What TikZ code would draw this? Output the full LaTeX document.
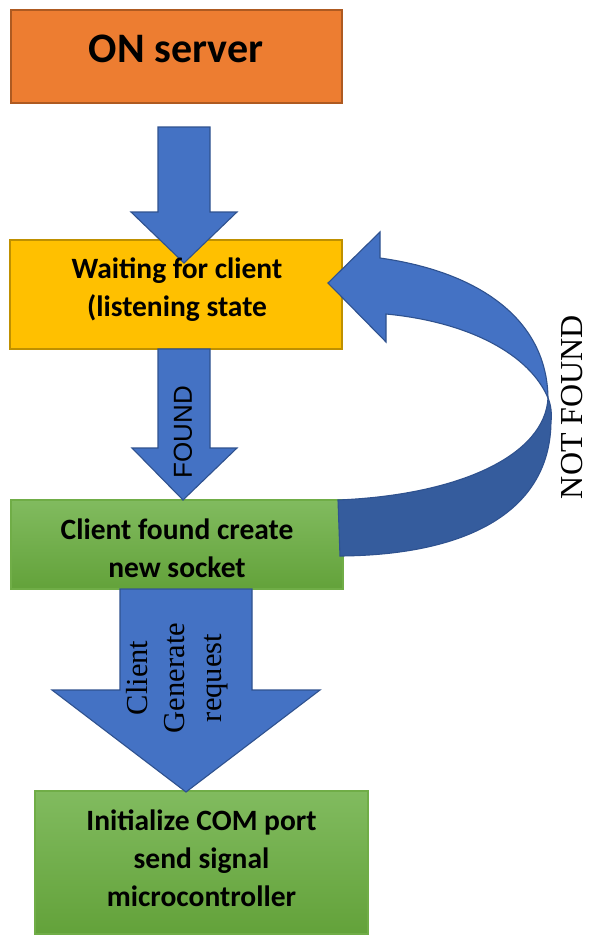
\documentclass[tikz,border=0pt]{standalone}
\usepackage{fontspec}
\setmainfont{Carlito}
\newfontfamily\serifface{Liberation Serif}
\newfontfamily\arialface{Liberation Sans}
\definecolor{orangefill}{HTML}{ED7D31}
\definecolor{orangeedge}{HTML}{AE5A21}
\definecolor{goldfill}{HTML}{FFC000}
\definecolor{goldedge}{HTML}{BF9000}
\definecolor{greentop}{HTML}{81BB5F}
\definecolor{greenbot}{HTML}{63A23A}
\definecolor{greenedge}{HTML}{70AD47}
\definecolor{arrowblue}{HTML}{4472C4}
\definecolor{arrowedge}{HTML}{2F528F}
\definecolor{arrowback}{HTML}{355C9D}
\begin{document}
\begin{tikzpicture}[x=1pt,y=-1pt,
  box/.style={draw, line width=1.3pt, inner sep=0pt},
  greenbox/.style={box, draw=greenedge, top color=greentop, bottom color=greenbot},
  boxtext/.style={font=\bfseries\fontsize{29.5}{38}\selectfont, align=center, inner sep=0pt},
  blockarrow/.style={fill=arrowblue, draw=arrowedge, line width=1.1pt, line join=miter},
  sidelabel/.style={rotate=90, inner sep=0pt, align=center}]
\useasboundingbox (0,0) rectangle (592,935);

% process boxes
\node[box, draw=orangeedge, fill=orangefill, minimum width=331pt, minimum height=93pt] (on) at (176.5,56.5) {};
\node[box, draw=goldedge, fill=goldfill, minimum width=332pt, minimum height=109pt] (wait) at (176,294.5) {};
\node[greenbox, minimum width=332pt, minimum height=89pt] (sock) at (177,544.5) {};
\node[greenbox, minimum width=333pt, minimum height=143pt] (init) at (201.5,862.5) {};

% block arrows between the boxes
\draw[blockarrow] (158,127) -- (210,127) -- (210,212) -- (237,212) -- (184,263)
  -- (131,212) -- (158,212) -- cycle;
\draw[blockarrow] (158,349) -- (210,349) -- (210,448) -- (237,448) -- (183,500)
  -- (132,448) -- (158,448) -- cycle;
\draw[blockarrow] (120,589) -- (252,589) -- (252,690) -- (320,690) -- (186,792)
  -- (52,690) -- (120,690) -- cycle;

% curved return arrow: back face first, then the front face with its head
\draw[fill=arrowback, draw=arrowedge, line width=1.1pt]
  (338,500) .. controls (460,495) and (545,455) .. (548,398)
  .. controls (551,405) and (552,414) .. (551,422)
  .. controls (550,510) and (470,555) .. (340,556) -- cycle;
\draw[blockarrow]
  (328,283) -- (380,232) -- (380,258)
  .. controls (480,272) and (547,320) .. (548,398)
  .. controls (530,355) and (470,322) .. (386,314)
  -- (386,342) -- cycle;

% texts
\node[boxtext, font=\bfseries\fontsize{42}{50}\selectfont] (ontext) at (176,49) {ON server};
\node[boxtext] (waittext) at (177,290) {Waiting for client\\(listening state};
\node[boxtext] (socktext) at (177,548) {Client found create\\new socket};
\node[boxtext] (inittext) at (201.5,858.5) {Initialize COM port\\send signal\\microcontroller};
\node[sidelabel, font=\arialface\fontsize{26}{30}\selectfont] (found) at (183,432) {FOUND};
\node[sidelabel, font=\serifface\fontsize{32}{36}\selectfont] (notfound) at (572,407) {NOT FOUND};
\node[sidelabel, font=\serifface\fontsize{30.5}{37}\selectfont] (request) at (177.5,678) {Client\\Generate\\request};
\end{tikzpicture}
\end{document}
